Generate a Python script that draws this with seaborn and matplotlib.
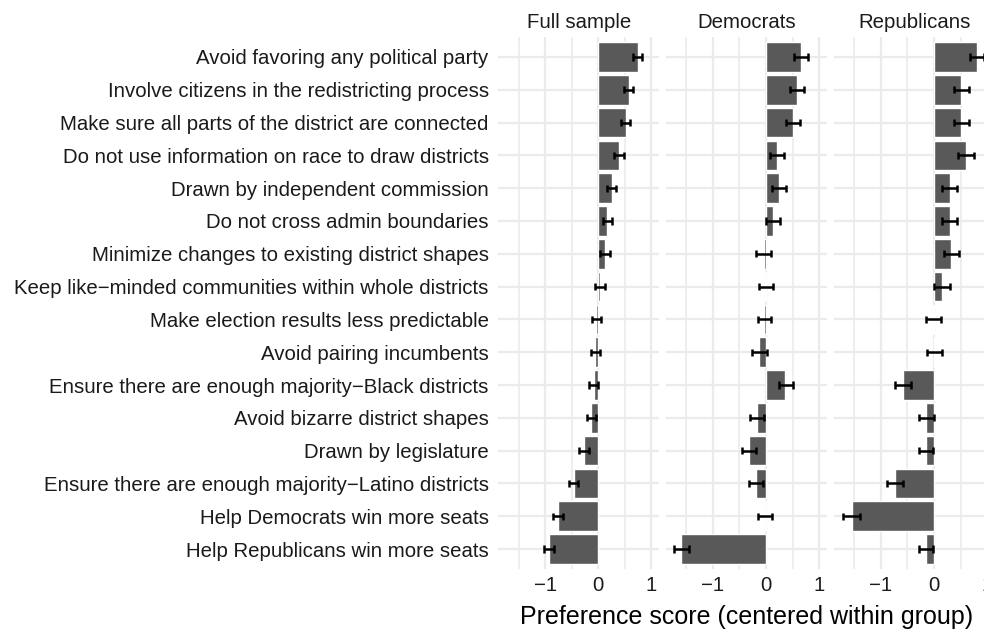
import numpy as np
import pandas as pd
import matplotlib
matplotlib.use("Agg")
import matplotlib.pyplot as plt
import seaborn as sns

# Redistricting criteria, top to bottom
attributes = [
    "Avoid favoring any political party",
    "Involve citizens in the redistricting process",
    "Make sure all parts of the district are connected",
    "Do not use information on race to draw districts",
    "Drawn by independent commission",
    "Do not cross admin boundaries",
    "Minimize changes to existing district shapes",
    "Keep like\u2212minded communities within whole districts",
    "Make election results less predictable",
    "Avoid pairing incumbents",
    "Ensure there are enough majority\u2212Black districts",
    "Avoid bizarre district shapes",
    "Drawn by legislature",
    "Ensure there are enough majority\u2212Latino districts",
    "Help Democrats win more seats",
    "Help Republicans win more seats",
]
groups = ["Full sample", "Democrats", "Republicans"]

# Preference scores (centered within group) and 95% interval bounds
full_score = [0.74, 0.57, 0.52, 0.39, 0.26, 0.16, 0.13, 0.03,
              -0.04, -0.06, -0.08, -0.13, -0.26, -0.46, -0.75, -0.93]
full_low = [0.66, 0.49, 0.43, 0.30, 0.17, 0.08, 0.04, -0.06,
            -0.12, -0.14, -0.17, -0.22, -0.36, -0.55, -0.85, -1.02]
full_high = [0.83, 0.66, 0.60, 0.48, 0.34, 0.25, 0.22, 0.12,
             0.05, 0.04, 0.00, -0.05, -0.18, -0.38, -0.66, -0.84]

dem_score = [0.66, 0.58, 0.51, 0.21, 0.25, 0.13, -0.04, -0.01,
             -0.04, -0.13, 0.35, -0.17, -0.32, -0.19, -0.02, -1.60]
dem_low = [0.53, 0.45, 0.38, 0.08, 0.11, 0.00, -0.18, -0.14,
           -0.16, -0.26, 0.24, -0.30, -0.45, -0.32, -0.15, -1.74]
dem_high = [0.79, 0.72, 0.64, 0.34, 0.38, 0.26, 0.09, 0.13,
            0.09, 0.01, 0.50, -0.04, -0.19, -0.06, 0.11, -1.45]

rep_score = [0.81, 0.51, 0.51, 0.61, 0.30, 0.30, 0.32, 0.15,
             -0.02, 0.01, -0.59, -0.15, -0.15, -0.73, -1.55, -0.15]
rep_low = [0.67, 0.37, 0.37, 0.46, 0.16, 0.16, 0.18, 0.00,
           -0.15, -0.13, -0.73, -0.28, -0.29, -0.88, -1.71, -0.29]
rep_high = [0.95, 0.66, 0.66, 0.76, 0.44, 0.44, 0.47, 0.30,
            0.14, 0.16, -0.44, 0.00, -0.01, -0.59, -1.39, -0.01]

frames = []
for g, s, lo, hi in [("Full sample", full_score, full_low, full_high),
                     ("Democrats", dem_score, dem_low, dem_high),
                     ("Republicans", rep_score, rep_low, rep_high)]:
    frames.append(pd.DataFrame({"group": g, "attribute": attributes,
                                "score": s, "low": lo, "high": hi}))
df = pd.concat(frames, ignore_index=True)

sns.set_theme(style="white")
plt.rcParams["font.family"] = ["Liberation Sans", "DejaVu Sans"]

W, H = 984, 634
fig = plt.figure(figsize=(W / 100, H / 100), dpi=100)

xlim = (-1.88, 1.14)
unit_px = 53.1
panel_w = (xlim[1] - xlim[0]) * unit_px
zero_px = [598.3, 766.0, 934.0]
top_px, bottom_px = 37.3, 568.7

text_col = "#1A1A1A"
grid_col = "#EBEBEB"

for i, g in enumerate(groups):
    left = zero_px[i] + xlim[0] * unit_px
    ax = fig.add_axes([left / W, 1 - bottom_px / H, panel_w / W,
                       (bottom_px - top_px) / H])
    sub = df[df["group"] == g]
    sns.barplot(data=sub, x="score", y="attribute", order=attributes,
                orient="h", color="#595959", saturation=1, width=0.9,
                errorbar=None, ax=ax, zorder=2)
    pos = np.arange(len(attributes))
    ax.hlines(pos, sub["low"], sub["high"], color="black", lw=1.8, zorder=3)
    for col in ["low", "high"]:
        ax.vlines(sub[col], pos - 0.11, pos + 0.11, color="black", lw=1.8,
                  zorder=3)
    ax.set_xlim(*xlim)
    ax.set_ylim(len(attributes) - 0.4, -0.6)
    ax.set_xticks([-1, 0, 1])
    ax.set_xticklabels(["\u22121", "0", "1"])
    ax.set_xticks([-1.5, -0.5, 0.5], minor=True)
    ax.grid(True, which="major", axis="both", color=grid_col, lw=1.6)
    ax.grid(True, which="minor", axis="x", color=grid_col, lw=1.2)
    ax.set_axisbelow(True)
    for sp in ax.spines.values():
        sp.set_visible(False)
    ax.tick_params(axis="both", which="both", length=0, labelsize=14.7,
                   labelcolor=text_col)
    ax.tick_params(axis="x", pad=5)
    ax.tick_params(axis="y", pad=7)
    ax.set_xlabel("")
    ax.set_ylabel("")
    if i > 0:
        ax.set_yticklabels([])
    ax.set_title(g, fontsize=14.7, color=text_col, pad=7)

fig.text(746.5 / W, 1 - 617 / H, "Preference score (centered within group)",
         ha="center", va="center", fontsize=18, color="black")

fig.savefig("out.png", dpi=100, facecolor="white")
